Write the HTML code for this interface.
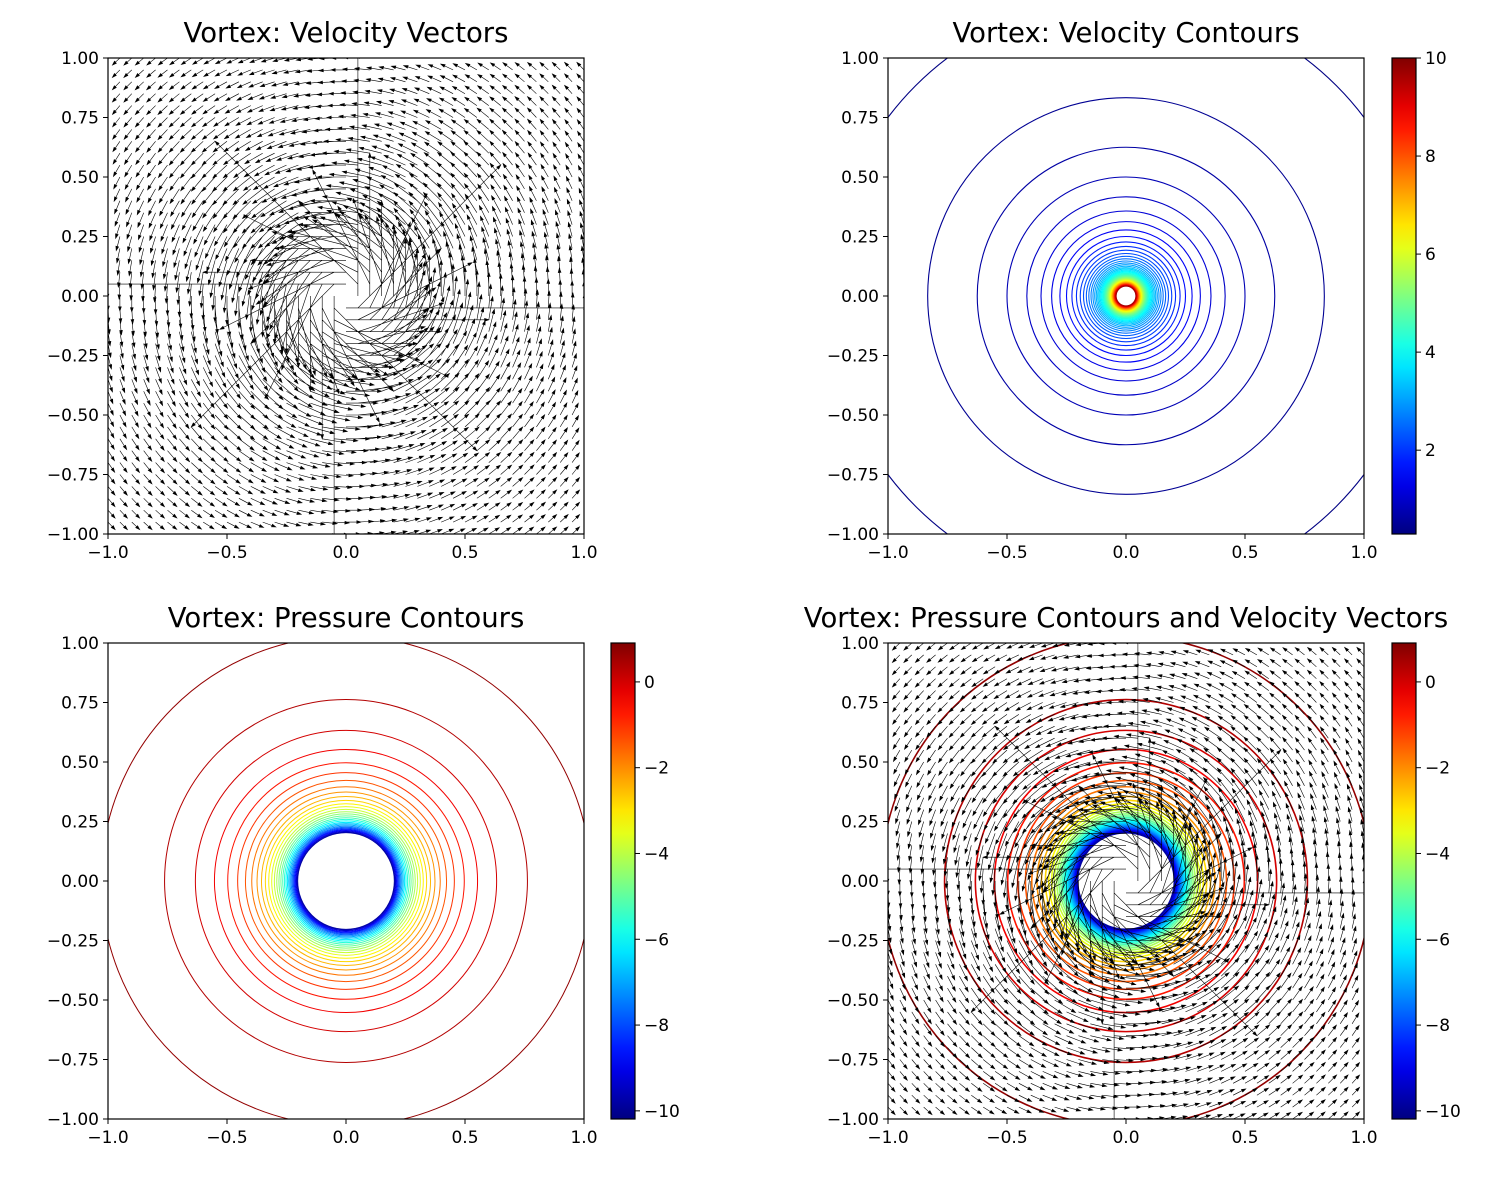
<!DOCTYPE html>
<html><head><meta charset="utf-8"><style>
body{margin:0;background:#fff;}
svg{display:block;font-family:"DejaVu Sans","Liberation Sans",sans-serif;}
</style></head><body>
<svg id="fig" width="1503" height="1179" viewBox="0 0 1503 1179" xmlns="http://www.w3.org/2000/svg">
<defs>
<clipPath id="clipTL"><rect x="108" y="58" width="476" height="476"/></clipPath>
<clipPath id="clipTR"><rect x="888" y="58" width="476" height="476"/></clipPath>
<clipPath id="clipBL"><rect x="108" y="643" width="476" height="476"/></clipPath>
<clipPath id="clipBR"><rect x="888" y="643" width="476" height="476"/></clipPath>
<linearGradient id="jetGrad" x1="0" y1="1" x2="0" y2="0"></linearGradient>
</defs>
</svg>
<script>
// ---- data ----
const vortexStrength = [0.06];          // quiver: velocity = c / r
const velocityStrength = [0.4];         // contour: |v| = k / r
const velocityLevels = [0.32,0.48,0.64,0.80,0.96,1.12,1.28,1.44,1.60,1.76,1.92,2.08,2.24,2.40,2.56,2.72,2.88,3.04,3.20,3.36,3.52,3.68,3.84,4.00,4.16,4.32,4.48,4.64,4.80,4.96,5.12,5.28,5.44,5.60,5.76,5.92,6.08,6.24,6.40,6.56,6.72,6.88,7.04,7.20,7.36,7.52,7.68,7.84,8.00,8.16,8.32,8.48,8.64,8.80,8.96,9.12,9.28,9.44,9.60];
const velocityRange = [0.29, 10.0];
const pressureParams = [1.126, 0.451];   // p = p0 - a / r^2
const pressureLevels = [0.7,0.35,0,-0.35,-0.7,-1.05,-1.4,-1.75,-2.1,-2.45,-2.8,-3.15,-3.5,-3.85,-4.2,-4.55,-4.9,-5.25,-5.6,-5.95,-6.3,-6.65,-7.0,-7.35,-7.7,-8.05,-8.4,-8.75,-9.1,-9.45,-9.8];
const pressureRange = [-10.19, 0.907];
const axisTicks = [-1.0,-0.5,0.0,0.5,1.0];
const axisTickLabels = ["−1.0","−0.5","0.0","0.5","1.0"];
const yTicks = [-1.0,-0.75,-0.5,-0.25,0,0.25,0.5,0.75,1.0];
const yTickLabels = ["−1.00","−0.75","−0.50","−0.25","0.00","0.25","0.50","0.75","1.00"];
const velCbTicks = [2,4,6,8,10];
const velCbLabels = ["2","4","6","8","10"];
const presCbTicks = [0,-2,-4,-6,-8,-10];
const presCbLabels = ["0","−2","−4","−6","−8","−10"];

const NS="http://www.w3.org/2000/svg";
const svg=document.getElementById('fig');
function mk(tag,attrs,parent){const e=document.createElementNS(NS,tag);for(const k in attrs)e.setAttribute(k,attrs[k]);(parent||svg).appendChild(e);return e;}
function jet(t){t=Math.max(0,Math.min(1,t));const c=v=>Math.round(255*Math.max(0,Math.min(1,v)));
 return `rgb(${c(1.5-Math.abs(4*t-3))},${c(1.5-Math.abs(4*t-2))},${c(1.5-Math.abs(4*t-1))})`;}
const grad=document.getElementById('jetGrad');
for(let i=0;i<=20;i++){mk('stop',{offset:(i/20),'stop-color':jet(i/20)},grad);}

const S=476, H=238, TF=17, TTF=27.5;
function panel(ox,oy,title,name){
  const g=mk('g',{});
  
  
  return {g,ox,oy,X:x=>ox+(x+1)*H,Y:y=>oy+(1-y)*H,title};
}
function frame(p,name){
  const {g,ox,oy}=p;
  const r=mk('rect',{x:ox,y:oy,width:S,height:S,fill:'none',stroke:'#000','stroke-width':1.2},g);
  
  
  axisTicks.forEach((v,i)=>{
    const x=p.X(v);
    mk('line',{x1:x,y1:oy+S,x2:x,y2:oy+S+5,stroke:'#000','stroke-width':1},g);
    const t=mk('text',{x:x,y:oy+S+24,'font-size':TF,'text-anchor':'middle'},g);
    t.textContent=axisTickLabels[i];
    
    
  });
  yTicks.forEach((v,i)=>{
    const y=p.Y(v);
    mk('line',{x1:ox-5,y1:y,x2:ox,y2:y,stroke:'#000','stroke-width':1},g);
    const t=mk('text',{x:ox-9,y:y+6,'font-size':TF,'text-anchor':'end'},g);
    t.textContent=yTickLabels[i];
    
    
  });
  const tt=mk('text',{x:ox+S/2,y:oy-16,'font-size':TTF,'text-anchor':'middle'},g);
  tt.textContent=p.title;
  
  
}
function quiver(p,clip){
  const c=vortexStrength[0];
  let d='';
  for(let i=0;i<=40;i++)for(let j=0;j<=40;j++){
    const x=-1+i*0.05, y=-1+j*0.05;
    const r2=x*x+y*y; if(r2<1e-9)continue;
    const u=-c*y/r2, v=c*x/r2;
    const tx=p.X(x), ty=p.Y(y);
    const dx=u*H, dy=-v*H;
    const L=Math.hypot(dx,dy); const ux=dx/L, uy=dy/L;
    const hl=Math.min(4.2,L), hw=1.4;
    const ex=tx+dx, ey=ty+dy, bx=ex-ux*hl, by=ey-uy*hl;
    d+=`M${tx.toFixed(1)} ${ty.toFixed(1)}L${bx.toFixed(1)} ${by.toFixed(1)}`;
    d+=`M${ex.toFixed(1)} ${ey.toFixed(1)}L${(bx-uy*hw).toFixed(1)} ${(by+ux*hw).toFixed(1)}L${(bx+uy*hw).toFixed(1)} ${(by-ux*hw).toFixed(1)}Z`;
  }
  const q=mk('path',{d,stroke:'#000','stroke-width':0.6,fill:'#000','clip-path':`url(#${clip})`},p.g);
  
  
}
function velContours(p,clip){
  const k=velocityStrength[0];
  velocityLevels.forEach(v=>{
    const r=k/v; if(r<0.04)return;
    const c=mk('circle',{cx:p.X(0),cy:p.Y(0),r:r*H,fill:'none',stroke:jet((v-velocityRange[0])/(velocityRange[1]-velocityRange[0])),'stroke-width':1.1,'clip-path':`url(#${clip})`},p.g);
    
    
  });
}
function presContours(p,clip,w){
  const [p0,a]=pressureParams;
  pressureLevels.forEach(v=>{
    const r=Math.sqrt(a/(p0-v));
    const c=mk('circle',{cx:p.X(0),cy:p.Y(0),r:r*H,fill:'none',stroke:jet((v-pressureRange[0])/(pressureRange[1]-pressureRange[0])),'stroke-width':w,'clip-path':`url(#${clip})`},p.g);
    
    
  });
}
function colorbar(x,y0,range,ticks,labels,name){
  const g=mk('g',{});
  
  
  mk('rect',{x:x,y:y0,width:24,height:S,fill:'url(#jetGrad)',stroke:'#000','stroke-width':1.2},g);
  ticks.forEach((v,i)=>{
    const y=y0+S-(v-range[0])/(range[1]-range[0])*S;
    mk('line',{x1:x+24,y1:y,x2:x+29,y2:y,stroke:'#000','stroke-width':1},g);
    const t=mk('text',{x:x+33,y:y+6,'font-size':TF},g);
    t.textContent=labels[i];
    
    
  });
}
const tl=panel(108,58,'Vortex: Velocity Vectors','panel-velocity-vectors');
quiver(tl,'clipTL'); frame(tl,'velocity-vectors');
const tr=panel(888,58,'Vortex: Velocity Contours','panel-velocity-contours');
velContours(tr,'clipTR'); frame(tr,'velocity-contours');
colorbar(1392,58,velocityRange,velCbTicks,velCbLabels,'velocity-colorbar');
const bl=panel(108,643,'Vortex: Pressure Contours','panel-pressure-contours');
presContours(bl,'clipBL',1); frame(bl,'pressure-contours');
colorbar(611,643,pressureRange,presCbTicks,presCbLabels,'pressure-colorbar');
const br=panel(888,643,'Vortex: Pressure Contours and Velocity Vectors','panel-pressure-and-vectors');
presContours(br,'clipBR',1.6); quiver(br,'clipBR'); frame(br,'pressure-and-vectors');
colorbar(1392,643,pressureRange,presCbTicks,presCbLabels,'pressure-colorbar-combined');
</script>
</body></html>
